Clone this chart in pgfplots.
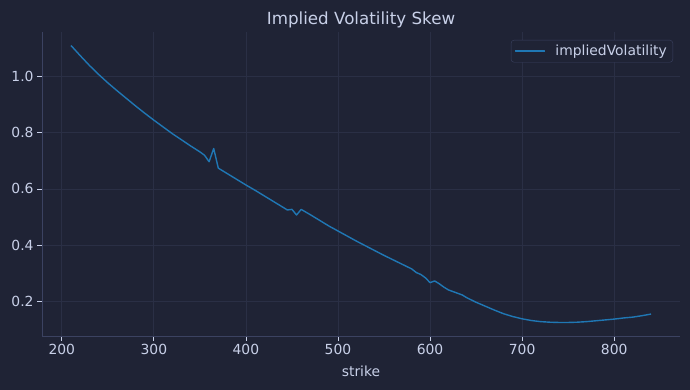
\documentclass[border=0pt]{standalone}
\usepackage{pgfplots}
\pgfplotsset{compat=1.18}
\usepackage{fontspec}
\setmainfont{DejaVu Sans}
\definecolor{bgcol}{HTML}{1F2335}
\definecolor{txtcol}{HTML}{C8D0E8}
\definecolor{gridcol}{HTML}{2A2F45}
\definecolor{spinecol}{HTML}{3B4261}
\definecolor{linecol}{HTML}{1F77B4}
\begin{document}
\begin{tikzpicture}
\fill[bgcol, use as bounding box] (-42pt,-54pt) rectangle (648pt,336pt);
\begin{axis}[
  scale only axis,
  width=638pt, height=304pt,
  at={(0pt,0pt)}, anchor=south west,
  xmin=178.5, xmax=871.5,
  ymin=0.0758, ymax=1.1592,
  axis x line*=bottom, axis y line*=left,
  axis line style={spinecol, line width=0.8pt, -},
  xtick={200,300,400,500,600,700,800},
  ytick={0.2,0.4,0.6,0.8,1.0},
  yticklabel style={/pgf/number format/.cd, fixed, fixed zerofill, precision=1},
  /pgf/number format/assume math mode=true,
  tick align=outside,
  major tick length=4.9pt,
  tick style={txtcol, line width=0.8pt},
  grid=major,
  major grid style={gridcol, line width=0.8pt},
  ticklabel style={font=\fontsize{13.9}{16}\selectfont, text=txtcol},
  xlabel={strike},
  xlabel style={font=\fontsize{13.9}{16}\selectfont, text=txtcol, yshift=-4pt},
  title={Implied Volatility Skew},
  title style={font=\fontsize{16.7}{19}\selectfont, text=txtcol, yshift=-6pt},
  legend style={at={(rel axis cs:1,1)}, anchor=north east, xshift=-7pt, yshift=-8pt,
    fill=bgcol, draw=spinecol, rounded corners=3pt, text=txtcol,
    font=\fontsize{13.9}{16}\selectfont, inner xsep=4pt, inner ysep=3pt},
  legend cell align=left,
  legend image code/.code={\fill[linecol, rounded corners=0pt] (0pt,-0.55pt) rectangle (29pt,0.55pt);},
]
\addplot[linecol, line width=1.4pt, line join=round] coordinates {
(210,1.111) (220,1.075) (230,1.040) (240,1.008) (250,0.978) (260,0.950)
(270,0.923) (280,0.896) (290,0.870) (300,0.845) (310,0.821) (320,0.797)
(330,0.775) (340,0.753) (350,0.732) (355,0.720) (360,0.697) (365,0.744)
(370,0.674) (380,0.654) (390,0.634) (400,0.614) (410,0.595) (420,0.575)
(430,0.555) (440,0.535) (445,0.525) (450,0.527) (455,0.507) (460,0.527)
(470,0.508) (480,0.488) (490,0.468) (500,0.450) (510,0.432) (520,0.414)
(530,0.397) (540,0.380) (550,0.363) (560,0.347) (570,0.331) (580,0.315)
(585,0.302) (590,0.295) (595,0.283) (600,0.266) (605,0.272) (610,0.262)
(615,0.250) (620,0.240) (630,0.228) (635,0.222) (640,0.212) (650,0.196)
(660,0.182) (670,0.168) (680,0.155) (690,0.145) (700,0.137) (710,0.131)
(720,0.127) (730,0.125) (740,0.124) (750,0.124) (760,0.125) (770,0.127)
(780,0.130) (790,0.133) (800,0.136) (810,0.140) (820,0.143) (830,0.148)
(840,0.154)
};
\addlegendentry{\hspace{8pt}impliedVolatility}
\end{axis}
\end{tikzpicture}
\end{document}
